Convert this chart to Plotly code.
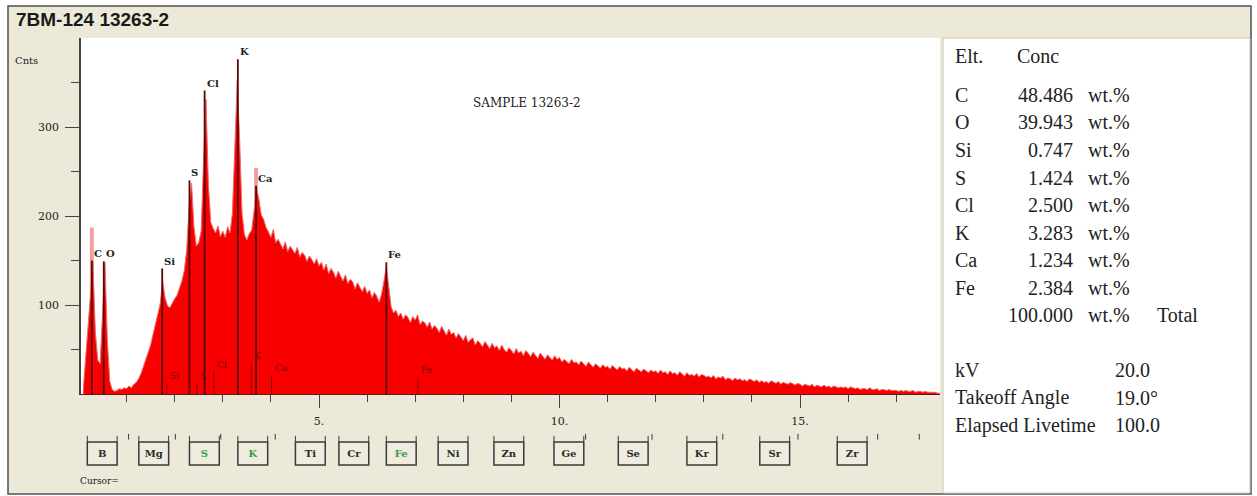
import plotly.graph_objects as go

W, H = 1257, 496

# ---------------- spectrum data ----------------
# counts per 0.05 keV channel, first channel at 0.10 keV
START_KEV = 0.10
STEP_KEV = 0.05
counts = [
    # 0.10 - 0.95
    6, 42, 75, 118, 148, 70, 38, 34, 92, 148, 60, 14, 5, 3, 4, 6, 5, 7,
    # 1.00 - 1.95
    6, 9, 7, 11, 13, 17, 23, 31, 37, 47, 55, 67, 77, 90, 102, 127, 108, 99, 97, 103,
    # 2.00 - 2.95
    107, 111, 119, 127, 139, 162, 212, 237, 188, 166, 170, 183, 262, 331, 236, 193, 186, 181, 189, 177,
    # 3.00 - 3.95
    183, 176, 188, 181, 203, 272, 352, 286, 203, 179, 173, 180, 184, 206, 232, 219, 201, 196, 187, 182,
    # 4.00 - 4.95
    176, 185, 170, 174, 169, 163, 171, 160, 166, 162, 158, 165, 154, 159, 156, 149, 155, 151, 146, 152,
    # 5.00 - 5.95
    144, 148, 139, 146, 135, 141, 137, 130, 138, 132, 127, 134, 124, 129, 126, 118, 125, 120, 115, 121,
    # 6.00 - 6.95
    113, 117, 108, 114, 110, 103, 112, 127, 143, 121, 98, 91, 94, 87, 91, 84, 89, 86, 80, 87,
    # 7.00 - 7.95
    83, 89, 78, 82, 80, 75, 81, 73, 77, 74, 69, 76, 70, 66, 73, 67, 69, 63, 68, 64,
    # 8.00 - 8.95
    60, 66, 58, 61, 63, 55, 60, 57, 53, 59, 55, 51, 57, 52, 54, 49, 55, 50, 47, 52,
    # 9.00 - 9.95
    49, 45, 51, 46, 48, 43, 49, 45, 42, 47, 44, 40, 46, 42, 39, 44, 41, 38, 43, 39,
    # 10.00 - 10.95
    41, 36, 39, 37, 34, 39, 35, 36, 33, 37, 34, 31, 36, 33, 30, 34, 32, 29, 33, 30,
    # 11.00 - 11.95
    31, 28, 32, 29, 27, 31, 28, 29, 26, 30, 27, 25, 29, 27, 25, 28, 26, 24, 27, 25,
    # 12.00 - 12.95
    26, 23, 27, 24, 25, 22, 26, 23, 24, 21, 25, 23, 20, 24, 21, 22, 20, 23, 19, 22,
    # 13.00 - 13.95
    21, 19, 20, 18, 21, 17, 19, 18, 20, 16, 18, 17, 15, 18, 16, 17, 15, 16, 14, 17,
    # 14.00 - 14.95
    15, 14, 16, 13, 15, 13, 14, 12, 15, 13, 12, 14, 11, 13, 12, 11, 13, 11, 10, 12,
    # 15.00 - 15.95
    11, 9, 11, 10, 9, 11, 8, 10, 9, 8, 10, 8, 9, 7, 9, 8, 7, 8, 7, 8,
    # 16.00 - 16.95
    6, 8, 7, 6, 7, 5, 6, 6, 5, 7, 5, 5, 6, 4, 5, 5, 4, 5, 4, 4,
    # 17.00 - 17.90
    4, 3, 4, 3, 4, 3, 3, 4, 2, 3, 3, 2, 3, 2, 2, 2, 2, 1, 1,
]
energy = [round(START_KEV + STEP_KEV * i, 2) for i in range(len(counts))]

# identified K-alpha lines (KLM markers)
line_elements = ["C", "O", "Si", "S", "Cl", "K", "Ca", "Fe"]
line_kev = [0.277, 0.525, 1.740, 2.307, 2.622, 3.313, 3.691, 6.400]
line_height = [150, 149, 141, 240, 341, 376, 234, 148]

# compare-spectrum peaks that rise above the main spectrum
overlay_kev = [0.277, 3.691]
overlay_counts = [187, 254]

# K-beta markers
kb_elements = ["Si", "S", "Cl", "K", "Ca", "Fe"]
kb_kev = [1.836, 2.464, 2.815, 3.590, 4.013, 7.058]
kb_height = [12, 12, 25, 35, 21, 19]

# quantification results
quant_wt = [48.486, 39.943, 0.747, 1.424, 2.500, 3.283, 1.234, 2.384]
quant_total = 100.000
kv = 20.0
takeoff_deg = 19.0
livetime = 100.0

# element selector buttons (left edge at the K-alpha energy)
button_elements = ["B", "Mg", "S", "K", "Ti", "Cr", "Fe", "Ni", "Zn", "Ge", "Se", "Kr", "Sr", "Zr"]
button_kev = [0.183, 1.254, 2.307, 3.313, 4.510, 5.414, 6.400, 7.477, 8.637, 9.885,
              11.222, 12.649, 14.164, 15.774]
# other elements shown only as small marks on the selector strip
strip_elements = ["Na", "P", "Ar", "Sc", "As", "Br", "Rb", "Y", "Nb", "Mo"]
strip_kev = [1.041, 2.013, 2.957, 4.090, 10.543, 11.924, 13.395, 14.958, 16.615, 17.479]

# ---------------- layout helpers ----------------
def px(x):
    return x / W


def py(y):
    return 1 - y / H


PLOT_L, PLOT_R, PLOT_T, PLOT_B = 81, 940, 38, 394
KEV0_PX, PX_PER_KEV = 78.5, 48.1
PX_PER_COUNT = 0.89
x_range = [(PLOT_L - KEV0_PX) / PX_PER_KEV, (PLOT_R - KEV0_PX) / PX_PER_KEV]
y_range = [0, (PLOT_B - PLOT_T) / PX_PER_COUNT]

BEIGE = "#ECE9D8"
SPEC_RED = "#f80000"
MARK_DARK = "#5a0606"
SERIF_SMALL = "DejaVu Serif"
SERIF = "Liberation Serif"

fig = go.Figure()

# compare spectrum peaks (light red, behind the main spectrum)
ox, oy = [], []
for e, c in zip(overlay_kev, overlay_counts):
    ox += [e, e, None]
    oy += [0, c, None]
fig.add_trace(go.Scatter(x=ox, y=oy, mode="lines",
                         line=dict(color="#f2a0a0", width=4), hoverinfo="skip"))

# main spectrum
fig.add_trace(go.Scatter(x=energy, y=counts, mode="lines", fill="tozeroy",
                         fillcolor=SPEC_RED, line=dict(color="#f06a6a", width=1),
                         hoverinfo="skip"))

# K-alpha marker lines
mx, my = [], []
for e, h in zip(line_kev, line_height):
    mx += [e, e, None]
    my += [0, h, None]
fig.add_trace(go.Scatter(x=mx, y=my, mode="lines",
                         line=dict(color=MARK_DARK, width=1.8), hoverinfo="skip"))

# K-beta marker lines
bx, by = [], []
for e, h in zip(kb_kev, kb_height):
    bx += [e, e, None]
    by += [0, h, None]
fig.add_trace(go.Scatter(x=bx, y=by, mode="lines",
                         line=dict(color="#8c0000", width=1), hoverinfo="skip"))

# element selector strip (second y axis under the spectrum)
BTN_W = 0.62
btn_colors = ["#3f9a3f" if el in line_elements else "#2a2a2a" for el in button_elements]
fig.add_trace(go.Scatter(x=[e + BTN_W / 2 for e in button_kev], y=[0.42] * len(button_kev),
                         mode="text", text=[f"<b>{el}</b>" for el in button_elements],
                         textfont=dict(family=SERIF_SMALL, size=10, color=btn_colors),
                         xaxis="x", yaxis="y2", hoverinfo="skip", cliponaxis=False))
tx, ty = [], []
for e in button_kev:
    tx += [e, e, None, e + BTN_W, e + BTN_W, None]
    ty += [0.74, 0.90, None, 0.74, 0.90, None]
fig.add_trace(go.Scatter(x=tx, y=ty, mode="lines", line=dict(color="#3a3a3a", width=1),
                         xaxis="x", yaxis="y2", hoverinfo="skip", cliponaxis=False))
sx, sy = [], []
for e in strip_kev:
    sx += [e, e, None]
    sy += [0.80, 0.95, None]
fig.add_trace(go.Scatter(x=sx, y=sy, mode="lines", line=dict(color="#3a3a3a", width=1),
                         xaxis="x", yaxis="y2", hoverinfo="skip", cliponaxis=False))

shapes = [
    # window background and frame
    dict(type="rect", xref="paper", yref="paper", x0=px(8), x1=px(1251), y0=py(494), y1=py(6),
         fillcolor=BEIGE, line=dict(color="#505050", width=1.5), layer="below"),
    # spectrum area
    dict(type="rect", xref="paper", yref="paper", x0=px(PLOT_L), x1=px(PLOT_R),
         y0=py(PLOT_B), y1=py(PLOT_T), fillcolor="white", line=dict(width=0), layer="below"),
    # results panel
    dict(type="rect", xref="paper", yref="paper", x0=px(943), x1=px(1250), y0=py(493), y1=py(38),
         fillcolor="white", line=dict(color="#c8c5b8", width=1), layer="below"),
]
for e in button_kev:
    shapes.append(dict(type="rect", xref="x", yref="y2", x0=e, x1=e + BTN_W, y0=0.13, y1=0.74,
                       fillcolor="#eeebdf", line=dict(color="#3a3a3a", width=1.5), layer="below"))

annotations = []


def label(x, y, text, size, family=SERIF_SMALL, color="#222", xanchor="left",
          yanchor="middle", xref="paper", yref="paper", **kw):
    annotations.append(dict(x=x, y=y, xref=xref, yref=yref, text=text, showarrow=False,
                            xanchor=xanchor, yanchor=yanchor,
                            font=dict(family=family, size=size, color=color), **kw))


# title and captions
label(px(14), py(20), "<b>7BM-124 13263-2</b>", 19, family="Liberation Sans", color="#1a1a1a")
label(px(13), py(60), "Cnts", 10)
label(px(527), py(103), "SAMPLE 13263-2", 12, xanchor="center")
label(px(78), py(481), "Cursor=", 9)

# K-alpha labels
for el, e, h in zip(line_elements, line_kev, line_height):
    label(e, h, f"<b>{el}</b>", 10, color="#1e1e1e", xref="x", yref="y", yanchor="bottom")
# K-beta labels
for el, e, h in zip(kb_elements, kb_kev, kb_height):
    label(e, h, el, 9, color="#7a0a0a", xref="x", yref="y", yanchor="bottom", xshift=1)

# results table
ROW0, ROW_DY = 95, 27.5
label(px(953), py(56), "Elt.", 20, family=SERIF)
label(px(1015), py(56), "Conc", 20, family=SERIF)
for i, (el, wt) in enumerate(zip(line_elements, quant_wt)):
    yy = py(ROW0 + ROW_DY * i)
    label(px(953), yy, el, 20, family=SERIF)
    label(px(1075), yy, f"{wt:.3f}", 20, family=SERIF, xanchor="right")
    label(px(1086), yy, "wt.%", 20, family=SERIF)
yy = py(ROW0 + ROW_DY * len(line_elements))
label(px(1075), yy, f"{quant_total:.3f}", 20, family=SERIF, xanchor="right")
label(px(1086), yy, "wt.%", 20, family=SERIF)
label(px(1155), yy, "Total", 20, family=SERIF)

cond = [("kV", f"{kv:.1f}"), ("Takeoff Angle", f"{takeoff_deg:.1f}°"),
        ("Elapsed Livetime", f"{livetime:.1f}")]
for i, (name, val) in enumerate(cond):
    yy = py(370 + ROW_DY * i)
    label(px(953), yy, name, 20, family=SERIF)
    label(px(1113), yy, val, 20, family=SERIF)

fig.update_layout(
    width=W, height=H, autosize=False,
    margin=dict(l=0, r=0, t=0, b=0, pad=0),
    paper_bgcolor="white", plot_bgcolor="rgba(0,0,0,0)",
    showlegend=False, shapes=shapes, annotations=annotations,
    xaxis=dict(
        domain=[px(PLOT_L), px(PLOT_R)], range=x_range, anchor="y",
        showgrid=False, zeroline=False, showline=True, linecolor="#5a1a1a", linewidth=1,
        tickmode="array", tickvals=[5, 10, 15], ticktext=["5.", "10.", "15."],
        ticks="outside", ticklen=13, tickwidth=1, tickcolor="#444",
        ticklabelstandoff=4,
        tickfont=dict(family=SERIF_SMALL, size=11, color="#222"),
        minor=dict(tickmode="array", tickvals=[1, 2, 3, 4, 6, 7, 8, 9, 11, 12, 13, 14, 16, 17],
                   ticks="outside", ticklen=7, tickwidth=1, tickcolor="#444"),
        fixedrange=True,
    ),
    yaxis=dict(
        domain=[py(PLOT_B), py(PLOT_T)], range=y_range, anchor="x",
        showgrid=False, zeroline=False, showline=True, linecolor="#444", linewidth=1.5,
        tickmode="array", tickvals=[100, 200, 300],
        ticks="outside", ticklen=14, tickwidth=1, tickcolor="#444",
        ticklabelstandoff=4,
        tickfont=dict(family=SERIF_SMALL, size=11, color="#222"),
        minor=dict(tickmode="array", tickvals=[50, 150, 250, 350],
                   ticks="outside", ticklen=8, tickwidth=1, tickcolor="#444"),
        fixedrange=True,
    ),
    yaxis2=dict(domain=[py(470), py(432)], range=[0, 1], anchor="x", visible=False,
                fixedrange=True),
)

fig.write_html("out.html")
